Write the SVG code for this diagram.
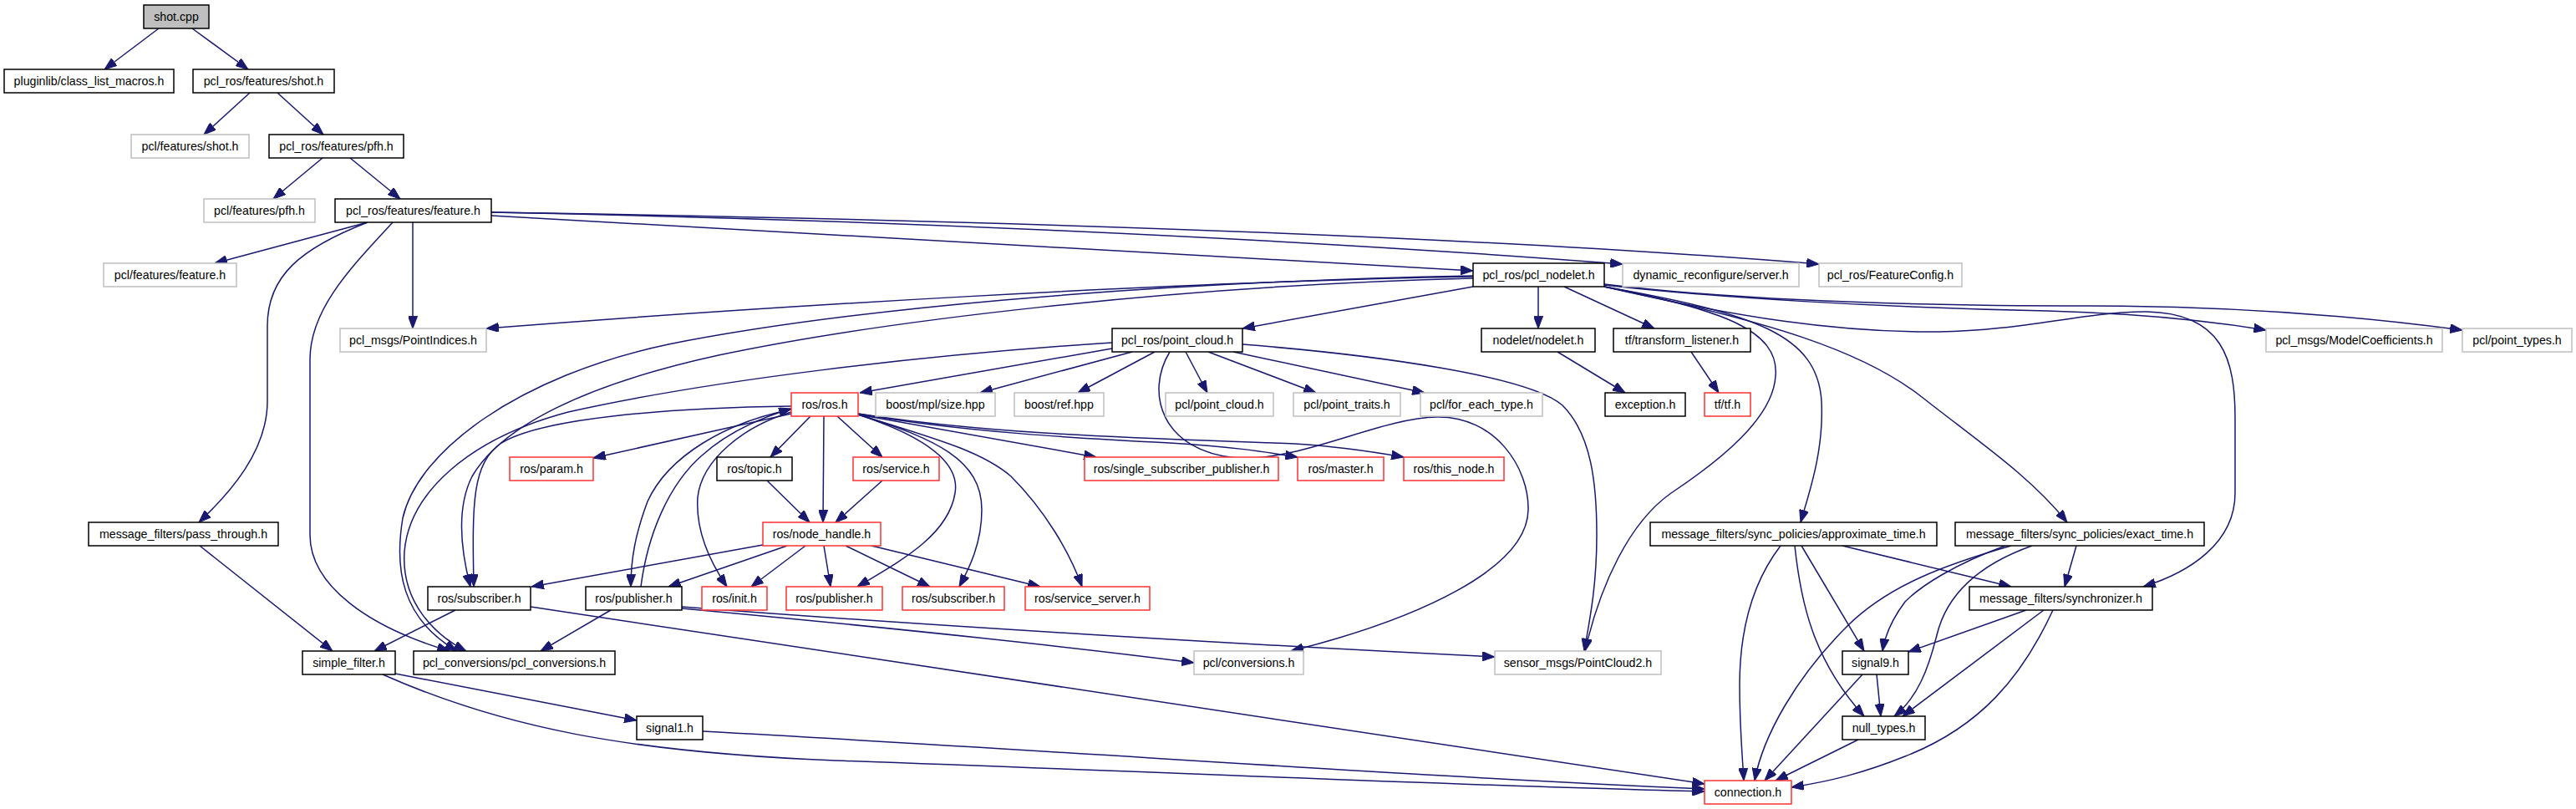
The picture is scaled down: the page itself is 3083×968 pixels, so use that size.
<svg xmlns="http://www.w3.org/2000/svg" width="3083" height="968" viewBox="0 0 3083 968">
<style>
.node rect{fill:#fff;stroke:#000;stroke-width:1.5}
.node.ext rect{stroke:#bfbfbf}
.node.trunc rect{stroke:#ff3030}
.node.root rect{fill:#bfbfbf;stroke:#000}
.node text{font-family:"Liberation Sans",Arial,sans-serif;font-size:14.2px;text-anchor:middle;fill:#000}
#edges path{fill:none;stroke:#191970;stroke-width:1.5;marker-end:url(#ah)}
</style>
<defs>
<marker id="ah" markerUnits="userSpaceOnUse" markerWidth="15" markerHeight="11" refX="14" refY="5.25" orient="auto" viewBox="0 0 14 10.5"><path d="M0,0 L14,5.25 L0,10.5 z" fill="#191970" stroke="#191970" stroke-width="1"/></marker>
</defs>
<rect width="3083" height="968" fill="#fff"/>
<g id="edges">
<path d="M190,34 L125,83"/>
<path d="M230,34 L297,83"/>
<path d="M299,111 L244,161"/>
<path d="M332,111 L387,161"/>
<path d="M386,189 L327,238"/>
<path d="M419,189 L479,238"/>
<path d="M440,266 L257,315"/>
<path d="M494,266 L494,393"/>
<path d="M440,266 C360,297 320,330 320,390 L320,480 C320,540 275,590 238,625"/>
<path d="M470,266 C420,320 371,370 371,430 L371,640 C371,700 440,750 538,779"/>
<path d="M588,258 L1763,324"/>
<path d="M588,254 C1000,262 1500,282 1942,316"/>
<path d="M588,254 C1100,262 1700,278 2177,316"/>
<path d="M1763,331 C1400,337 900,368 582,393"/>
<path d="M1763,343 L1487,393"/>
<path d="M1841,343 L1841,393"/>
<path d="M1872,343 L1980,393"/>
<path d="M1763,333 C1400,342 1050,385 860,425 C700,460 600,510 565,570 C545,610 552,660 563,702"/>
<path d="M1763,330 C1350,338 1000,372 800,412 C620,450 500,540 482,620 C472,680 480,740 547,779"/>
<path d="M1920,343 C2060,370 2130,395 2125,450 C2122,500 2060,550 2000,590 C1950,625 1915,700 1897,779"/>
<path d="M1920,343 C2100,375 2175,400 2180,480 C2183,540 2165,590 2155,625"/>
<path d="M1920,343 C2120,385 2230,420 2300,475 C2370,530 2430,570 2474,625"/>
<path d="M1920,343 C2080,380 2200,398 2320,397 C2420,396 2500,372 2570,373 C2660,375 2675,430 2675,500 L2675,590 C2675,650 2620,685 2565,702"/>
<path d="M1920,341 C2050,356 2250,368 2450,372 C2560,375 2650,385 2712,395"/>
<path d="M1920,340 C2050,356 2250,366 2500,366 C2700,366 2850,382 2947,395"/>
<path d="M1331,417 L1029,470"/>
<path d="M1331,410 C1100,425 850,455 680,493 C560,525 490,590 484,660 C480,720 520,760 558,779"/>
<path d="M1355,421 L1173,470"/>
<path d="M1382,421 L1290,470"/>
<path d="M1419,421 L1445,470"/>
<path d="M1446,421 L1575,470"/>
<path d="M1476,421 L1705,470"/>
<path d="M1400,421 C1370,470 1390,540 1480,548 C1560,552 1650,500 1720,499 C1790,498 1830,560 1829,610 C1828,680 1700,740 1545,779"/>
<path d="M1487,412 C1650,425 1830,450 1870,485 C1905,520 1911,580 1911,640 C1911,700 1903,740 1896,779"/>
<path d="M947,495 L710,548"/>
<path d="M947,486 C800,488 650,500 600,530 C565,555 565,600 567,702"/>
<path d="M947,490 C870,505 800,545 775,600 C760,640 755,670 755,702"/>
<path d="M767,702 C775,640 800,580 840,545 C870,518 910,500 947,489"/>
<path d="M947,493 C890,510 840,550 835,595 C832,640 855,680 870,702"/>
<path d="M970,498 L922,547"/>
<path d="M986,498 L985,625"/>
<path d="M1002,498 L1056,547"/>
<path d="M918,575 L969,625"/>
<path d="M1056,575 L1000,625"/>
<path d="M1027,496 C1100,520 1150,550 1143,590 C1135,640 1080,670 1026,702"/>
<path d="M1027,496 C1120,525 1175,550 1175,610 C1175,650 1160,680 1148,702"/>
<path d="M1027,496 C1120,525 1175,540 1210,570 C1250,610 1280,660 1295,702"/>
<path d="M1027,496 L1312,547"/>
<path d="M1027,495 C1150,517 1300,525 1400,530 C1470,534 1510,540 1553,547"/>
<path d="M1027,495 C1200,522 1400,525 1550,531 C1600,534 1640,540 1680,547"/>
<path d="M913,652 L636,702"/>
<path d="M942,653 L800,702"/>
<path d="M964,653 L899,702"/>
<path d="M986,653 L994,702"/>
<path d="M1012,653 L1113,702"/>
<path d="M1043,653 L1245,702"/>
<path d="M545,730 L448,779"/>
<path d="M635,726 L2040,938"/>
<path d="M731,730 L647,779"/>
<path d="M816,728 C1000,745 1250,770 1429,793"/>
<path d="M816,726 C1100,748 1500,772 1789,786"/>
<path d="M473,806 L762,862"/>
<path d="M458,807 C600,870 750,900 1000,910 C1500,928 1800,942 2040,947"/>
<path d="M841,875 C1300,900 1700,930 2040,944"/>
<path d="M239,653 L398,779"/>
<path d="M2024,421 L2057,470"/>
<path d="M1864,421 L1945,470"/>
<path d="M2131,653 C2095,700 2082,760 2082,820 C2082,870 2085,900 2087,934"/>
<path d="M2148,653 C2155,720 2170,790 2231,857"/>
<path d="M2156,653 L2231,779"/>
<path d="M2205,653 L2407,702"/>
<path d="M2485,653 L2471,702"/>
<path d="M2407,653 C2330,675 2260,700 2210,750 C2150,810 2110,880 2100,934"/>
<path d="M2400,653 C2340,675 2300,700 2280,720 C2265,740 2256,760 2253,779"/>
<path d="M2432,653 C2370,675 2330,710 2318,760 C2308,800 2295,835 2267,857"/>
<path d="M2425,730 L2284,780"/>
<path d="M2446,730 L2277,857"/>
<path d="M2457,730 C2420,810 2370,870 2280,905 C2230,925 2190,935 2144,942"/>
<path d="M2229,807 L2112,934"/>
<path d="M2246,807 L2251,857"/>
<path d="M2224,885 L2125,934"/>
</g>
<g id="n0" class="node root"><rect x="172" y="6" width="78" height="28"/><text x="211" y="25">shot.cpp</text></g>
<g id="n1" class="node"><rect x="5" y="83" width="203" height="28"/><text x="106.5" y="102">pluginlib/class_list_macros.h</text></g>
<g id="n2" class="node"><rect x="231" y="83" width="169" height="28"/><text x="315.5" y="102">pcl_ros/features/shot.h</text></g>
<g id="n3" class="node ext"><rect x="157" y="161" width="141" height="28"/><text x="227.5" y="180">pcl/features/shot.h</text></g>
<g id="n4" class="node"><rect x="322" y="161" width="161" height="28"/><text x="402.5" y="180">pcl_ros/features/pfh.h</text></g>
<g id="n5" class="node ext"><rect x="244" y="238" width="133" height="28"/><text x="310.5" y="257">pcl/features/pfh.h</text></g>
<g id="n6" class="node"><rect x="401" y="238" width="187" height="28"/><text x="494.5" y="257">pcl_ros/features/feature.h</text></g>
<g id="n7" class="node ext"><rect x="124" y="315" width="159" height="28"/><text x="203.5" y="334">pcl/features/feature.h</text></g>
<g id="n8" class="node"><rect x="1763" y="315" width="157" height="28"/><text x="1841.5" y="334">pcl_ros/pcl_nodelet.h</text></g>
<g id="n9" class="node ext"><rect x="1942" y="315" width="211" height="28"/><text x="2047.5" y="334">dynamic_reconfigure/server.h</text></g>
<g id="n10" class="node ext"><rect x="2177" y="315" width="171" height="28"/><text x="2262.5" y="334">pcl_ros/FeatureConfig.h</text></g>
<g id="n11" class="node ext"><rect x="407" y="393" width="175" height="28"/><text x="494.5" y="412">pcl_msgs/PointIndices.h</text></g>
<g id="n12" class="node"><rect x="1331" y="393" width="156" height="28"/><text x="1409" y="412">pcl_ros/point_cloud.h</text></g>
<g id="n13" class="node"><rect x="1773" y="393" width="136" height="28"/><text x="1841" y="412">nodelet/nodelet.h</text></g>
<g id="n14" class="node"><rect x="1931" y="393" width="164" height="28"/><text x="2013" y="412">tf/transform_listener.h</text></g>
<g id="n15" class="node ext"><rect x="2712" y="393" width="211" height="28"/><text x="2817.5" y="412">pcl_msgs/ModelCoefficients.h</text></g>
<g id="n16" class="node ext"><rect x="2947" y="393" width="131" height="28"/><text x="3012.5" y="412">pcl/point_types.h</text></g>
<g id="n17" class="node trunc"><rect x="947" y="470" width="80" height="28"/><text x="987" y="489">ros/ros.h</text></g>
<g id="n18" class="node ext"><rect x="1048" y="470" width="143" height="28"/><text x="1119.5" y="489">boost/mpl/size.hpp</text></g>
<g id="n19" class="node ext"><rect x="1214" y="470" width="107" height="28"/><text x="1267.5" y="489">boost/ref.hpp</text></g>
<g id="n20" class="node ext"><rect x="1395" y="470" width="129" height="28"/><text x="1459.5" y="489">pcl/point_cloud.h</text></g>
<g id="n21" class="node ext"><rect x="1548" y="470" width="128" height="28"/><text x="1612" y="489">pcl/point_traits.h</text></g>
<g id="n22" class="node ext"><rect x="1700" y="470" width="146" height="28"/><text x="1773" y="489">pcl/for_each_type.h</text></g>
<g id="n23" class="node"><rect x="1921" y="470" width="96" height="28"/><text x="1969" y="489">exception.h</text></g>
<g id="n24" class="node trunc"><rect x="2040" y="470" width="55" height="28"/><text x="2067.5" y="489">tf/tf.h</text></g>
<g id="n25" class="node trunc"><rect x="610" y="547" width="100" height="28"/><text x="660" y="566">ros/param.h</text></g>
<g id="n26" class="node"><rect x="858" y="547" width="90" height="28"/><text x="903" y="566">ros/topic.h</text></g>
<g id="n27" class="node trunc"><rect x="1021" y="547" width="103" height="28"/><text x="1072.5" y="566">ros/service.h</text></g>
<g id="n28" class="node trunc"><rect x="1298" y="547" width="232" height="28"/><text x="1414" y="566">ros/single_subscriber_publisher.h</text></g>
<g id="n29" class="node trunc"><rect x="1553" y="547" width="103" height="28"/><text x="1604.5" y="566">ros/master.h</text></g>
<g id="n30" class="node trunc"><rect x="1680" y="547" width="120" height="28"/><text x="1740" y="566">ros/this_node.h</text></g>
<g id="n31" class="node"><rect x="106" y="625" width="227" height="28"/><text x="219.5" y="644">message_filters/pass_through.h</text></g>
<g id="n32" class="node trunc"><rect x="913" y="625" width="141" height="28"/><text x="983.5" y="644">ros/node_handle.h</text></g>
<g id="n33" class="node"><rect x="1975" y="625" width="343" height="28"/><text x="2146.5" y="644">message_filters/sync_policies/approximate_time.h</text></g>
<g id="n34" class="node"><rect x="2340" y="625" width="298" height="28"/><text x="2489" y="644">message_filters/sync_policies/exact_time.h</text></g>
<g id="n35" class="node"><rect x="512" y="702" width="123" height="28"/><text x="573.5" y="721">ros/subscriber.h</text></g>
<g id="n36" class="node"><rect x="701" y="702" width="115" height="28"/><text x="758.5" y="721">ros/publisher.h</text></g>
<g id="n37" class="node trunc"><rect x="840" y="702" width="78" height="28"/><text x="879" y="721">ros/init.h</text></g>
<g id="n38" class="node trunc"><rect x="941" y="702" width="115" height="28"/><text x="998.5" y="721">ros/publisher.h</text></g>
<g id="n39" class="node trunc"><rect x="1080" y="702" width="122" height="28"/><text x="1141" y="721">ros/subscriber.h</text></g>
<g id="n40" class="node trunc"><rect x="1227" y="702" width="149" height="28"/><text x="1301.5" y="721">ros/service_server.h</text></g>
<g id="n41" class="node"><rect x="2357" y="702" width="219" height="28"/><text x="2466.5" y="721">message_filters/synchronizer.h</text></g>
<g id="n42" class="node"><rect x="362" y="779" width="111" height="28"/><text x="417.5" y="798">simple_filter.h</text></g>
<g id="n43" class="node"><rect x="495" y="779" width="241" height="28"/><text x="615.5" y="798">pcl_conversions/pcl_conversions.h</text></g>
<g id="n44" class="node ext"><rect x="1429" y="779" width="131" height="28"/><text x="1494.5" y="798">pcl/conversions.h</text></g>
<g id="n45" class="node ext"><rect x="1789" y="779" width="199" height="28"/><text x="1888.5" y="798">sensor_msgs/PointCloud2.h</text></g>
<g id="n46" class="node"><rect x="2205" y="779" width="79" height="28"/><text x="2244.5" y="798">signal9.h</text></g>
<g id="n47" class="node"><rect x="762" y="857" width="79" height="28"/><text x="801.5" y="876">signal1.h</text></g>
<g id="n48" class="node"><rect x="2205" y="857" width="99" height="28"/><text x="2254.5" y="876">null_types.h</text></g>
<g id="n49" class="node trunc"><rect x="2040" y="934" width="104" height="28"/><text x="2092" y="953">connection.h</text></g>
</svg>
